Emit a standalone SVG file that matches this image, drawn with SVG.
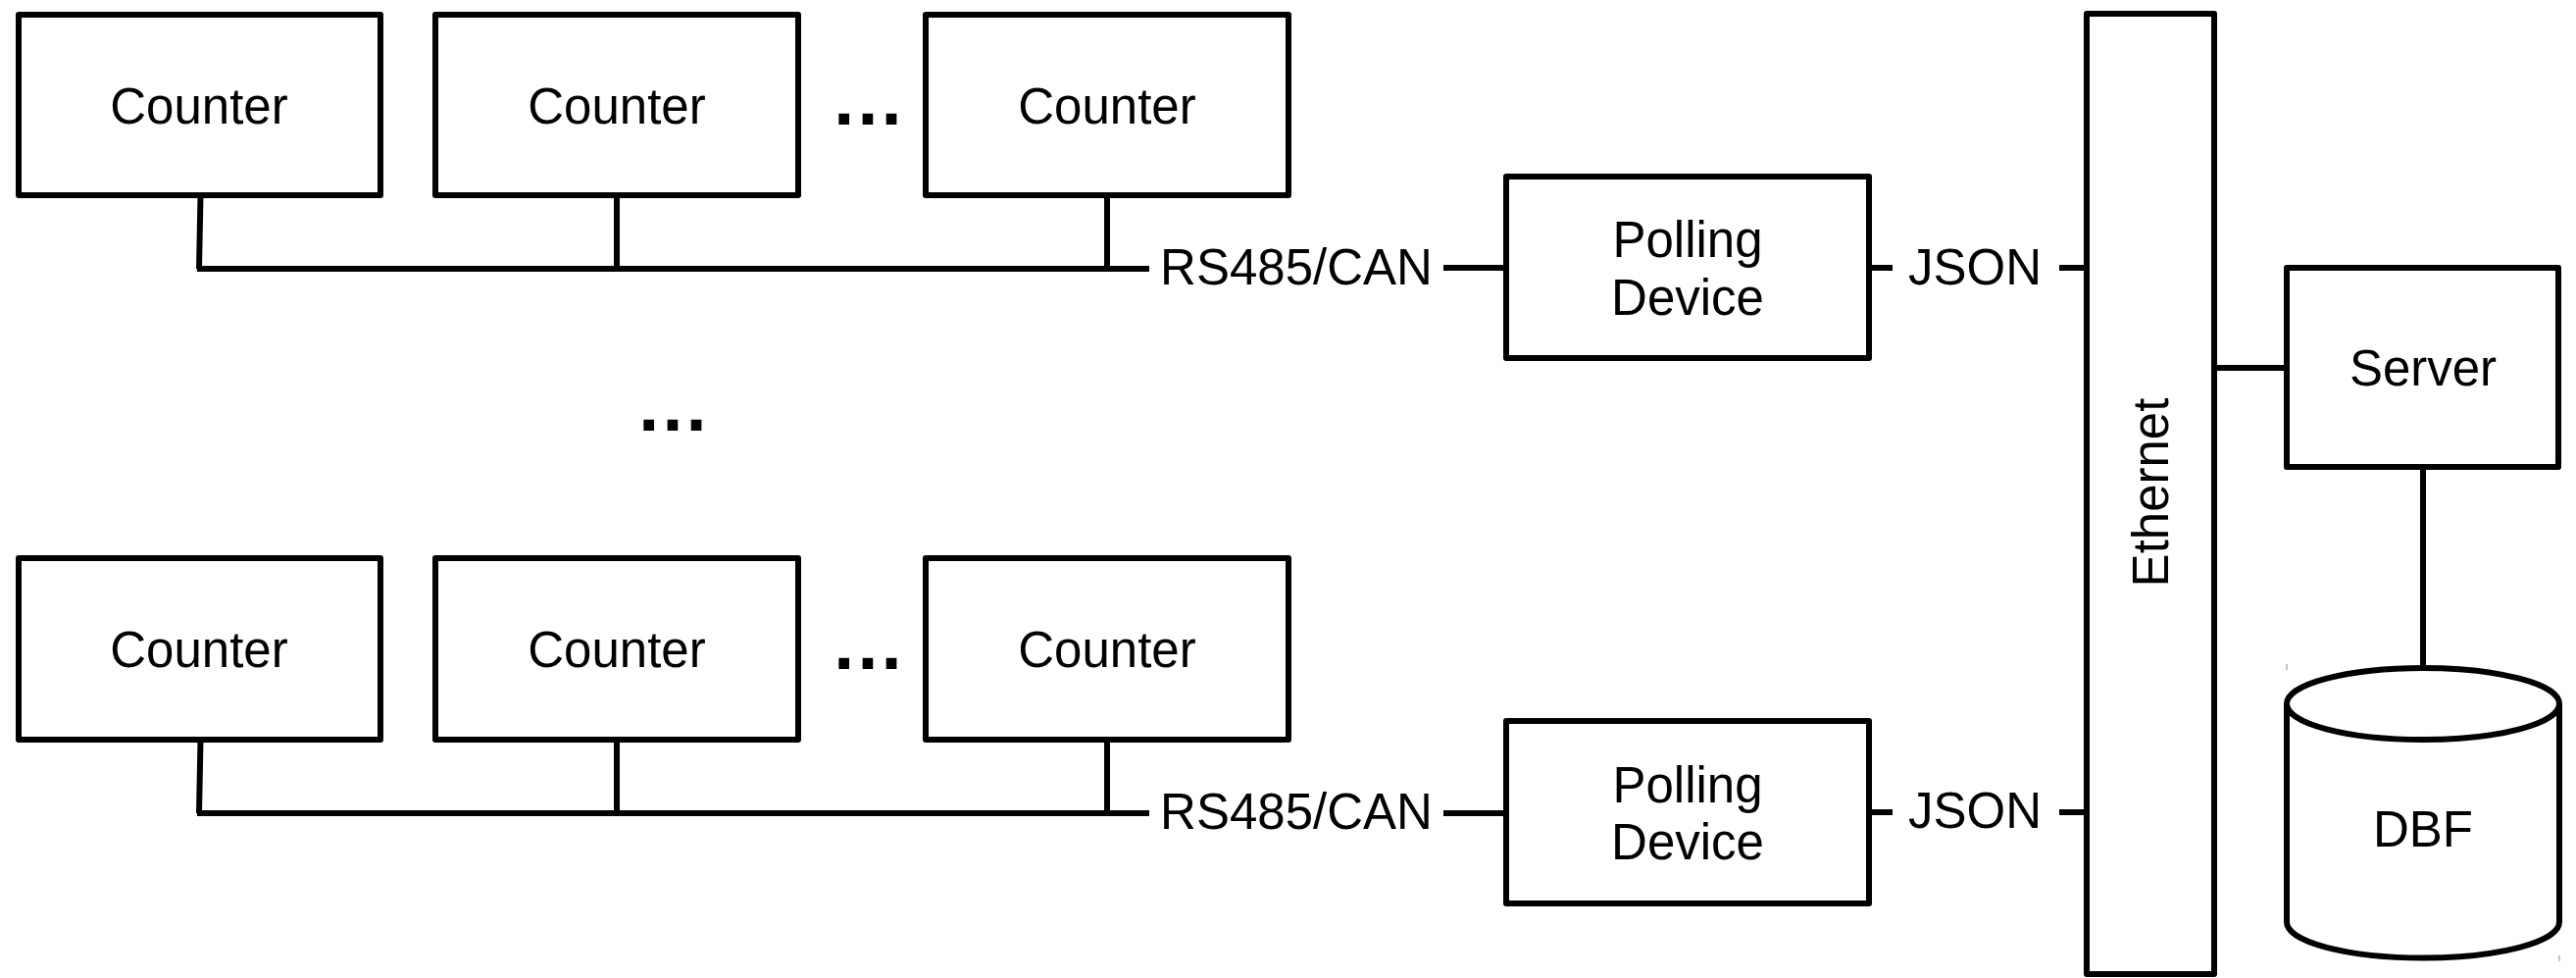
<svg xmlns="http://www.w3.org/2000/svg" width="2627" height="997" viewBox="0 0 2627 997">
<style>
.box{fill:#fff;stroke:#000;stroke-width:6;stroke-linejoin:round}
.ln{fill:none;stroke:#000;stroke-width:6}
.t{font-family:"Liberation Sans",Arial,sans-serif;font-size:51px;fill:#000;text-anchor:middle}
.dots{font-family:"Liberation Sans",Arial,sans-serif;font-size:76px;font-weight:bold;fill:#000;text-anchor:middle}
.tick{stroke:#888;stroke-width:1}
</style>
<rect width="2627" height="997" fill="#fff"/>
<g id="connectors">
<path class="ln" d="M204.5 199L203 274M629 199V274M1129 199V274M201 274H1172"/>
<path class="ln" d="M1472 273H1536"/>
<path class="ln" d="M204.5 754L203 829M629 754V829M1129 754V829M201 829H1172"/>
<path class="ln" d="M1472 829H1536"/>
<path class="ln" d="M1906 273H1930M2100 273H2128"/>
<path class="ln" d="M1906 828H1930M2100 828H2128"/>
<path class="ln" d="M2258 375H2332"/>
<path class="ln" d="M2471 476V681"/>
<text class="t" x="1322" y="290">RS485/CAN</text>
<text class="t" x="1322" y="845">RS485/CAN</text>
<text class="t" x="2014" y="290">JSON</text>
<text class="t" x="2014" y="844">JSON</text>
</g>
<g id="counter-1-1"><rect class="box" x="19" y="15" width="369" height="184"/><text class="t" x="203" y="126">Counter</text></g>
<g id="counter-1-2"><rect class="box" x="444" y="15" width="370" height="184"/><text class="t" x="629" y="126">Counter</text></g>
<g id="counter-1-3"><rect class="box" x="944" y="15" width="370" height="184"/><text class="t" x="1129" y="126">Counter</text></g>
<g id="counter-2-1"><rect class="box" x="19" y="569" width="369" height="185"/><text class="t" x="203" y="680">Counter</text></g>
<g id="counter-2-2"><rect class="box" x="444" y="569" width="370" height="185"/><text class="t" x="629" y="680">Counter</text></g>
<g id="counter-2-3"><rect class="box" x="944" y="569" width="370" height="185"/><text class="t" x="1129" y="680">Counter</text></g>
<g id="ellipses">
<text class="dots" x="885" y="127">…</text>
<text class="dots" x="885" y="682">…</text>
<text class="dots" x="686" y="439">…</text>
</g>
<g id="polling-1"><rect class="box" x="1536" y="180" width="370" height="185"/><text class="t" x="1721" y="262">Polling</text><text class="t" x="1721" y="321">Device</text></g>
<g id="polling-2"><rect class="box" x="1536" y="735" width="370" height="186"/><text class="t" x="1721" y="818">Polling</text><text class="t" x="1721" y="876">Device</text></g>
<g id="ethernet"><rect class="box" x="2128" y="14" width="130" height="979"/><text class="t" transform="translate(2193,502) rotate(-90)" x="0" y="18">Ethernet</text></g>
<g id="server"><rect class="box" x="2332" y="273" width="277" height="203"/><text class="t" x="2471" y="393">Server</text></g>
<g id="dbf">
<path class="box" d="M2332 717V940A139 36.5 0 0 0 2610 940V717"/>
<ellipse class="box" cx="2471" cy="717.5" rx="139" ry="36.5"/>
<text class="t" x="2471" y="863">DBF</text>
<line class="tick" x1="2332" y1="677" x2="2332" y2="683"/>
<line class="tick" x1="2610" y1="974" x2="2610" y2="980"/>
</g>
</svg>
